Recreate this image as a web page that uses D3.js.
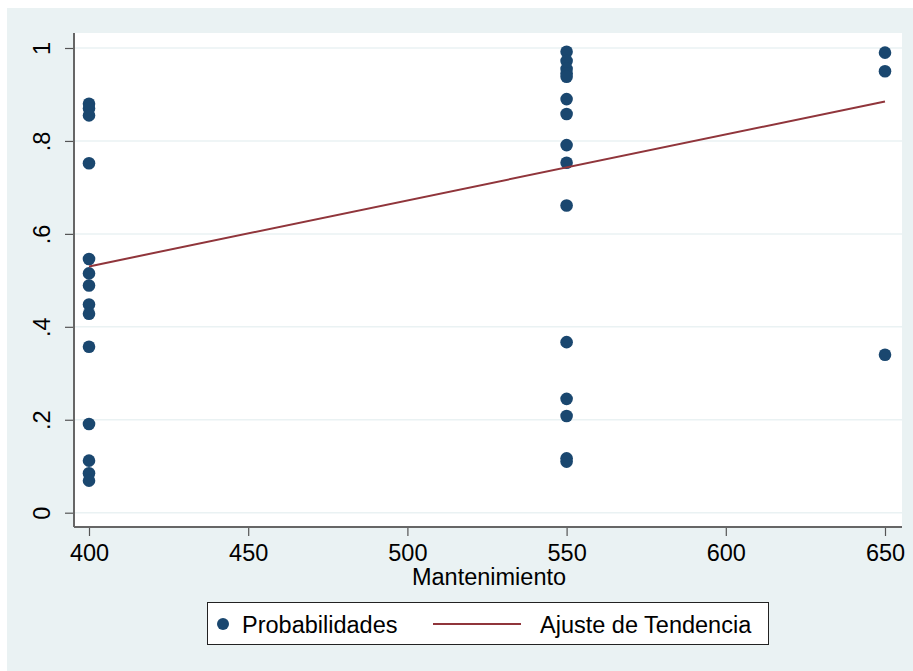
<!DOCTYPE html>
<html>
<head>
<meta charset="utf-8">
<script src="https://cdn.jsdelivr.net/npm/d3@7"></script>
<style>
  body { margin: 0; background: #fff; }
  svg text { font-family: "Liberation Sans", Arial, sans-serif; fill: #000; }
</style>
</head>
<body>
<div id="chart"></div>
<script>
// scatter of probabilities vs maintenance, with linear trend

// observations (x = Mantenimiento, y = Probabilidades)
var mantenimiento = [
  400, 400, 400, 400, 400, 400, 400, 400, 400, 400, 400, 400, 400, 400,
  550, 550, 550, 550, 550, 550, 550, 550, 550, 550, 550, 550, 550, 550, 550,
  650, 650, 650
];
var probabilidades = [
  0.88, 0.87, 0.855, 0.752, 0.546, 0.515, 0.489, 0.448, 0.428, 0.357, 0.191, 0.112, 0.085, 0.069,
  0.992, 0.972, 0.955, 0.945, 0.938, 0.890, 0.858, 0.791, 0.753, 0.661, 0.367, 0.245, 0.208, 0.117, 0.110,
  0.990, 0.950, 0.340
];

// fitted trend line endpoints
var trendX = [400, 650];
var trendY = [0.53, 0.885];

var xTicks = [400, 450, 500, 550, 600, 650];
var yTicks = [0, 0.2, 0.4, 0.6, 0.8, 1];
var yTickLabels = ["0", ".2", ".4", ".6", ".8", "1"];

var legendLabels = ["Probabilidades", "Ajuste de Tendencia"];

var width = 913, height = 671;
var navy = "#1a476f", maroon = "#90353b", bg = "#eaf2f3";
var fontSize = "23.5px";

var svg = d3.select("#chart").append("svg")
  .attr("width", width)
  .attr("height", height);

// graph background
svg.append("rect")
  .attr("x", 7).attr("y", 8)
  .attr("width", width - 7).attr("height", height - 8)
  .attr("fill", bg);

// plot region
var plot = {left: 74, right: 902, top: 33, bottom: 527};
svg.append("rect")
  .attr("x", plot.left).attr("y", plot.top)
  .attr("width", plot.right - plot.left)
  .attr("height", plot.bottom - plot.top)
  .attr("fill", "#fff");

var x = d3.scaleLinear().domain([400, 650]).range([89, 885]);
var y = d3.scaleLinear().domain([0, 1]).range([512.7, 48]);

// horizontal gridlines
svg.append("g").selectAll("line")
  .data(yTicks)
  .enter().append("line")
  .attr("x1", plot.left).attr("x2", plot.right)
  .attr("y1", function(d){ return y(d); })
  .attr("y2", function(d){ return y(d); })
  .attr("stroke", bg)
  .attr("stroke-width", 1.5);

// y axis
var yAxis = svg.append("g")
  .attr("transform", "translate(" + plot.left + ",0)")
  .call(d3.axisLeft(y).tickValues(yTicks)
    .tickFormat(function(d, i){ return yTickLabels[i]; })
    .tickSize(9).tickPadding(0));
yAxis.select(".domain").remove();
yAxis.selectAll(".tick line").attr("stroke", "#555").attr("stroke-width", 1.2);
yAxis.selectAll(".tick text")
  .attr("x", 0).attr("dy", 0)
  .attr("transform", "translate(-24,0) rotate(-90)")
  .attr("text-anchor", "middle")
  .style("font-size", fontSize);
yAxis.append("line")
  .attr("x1", 0).attr("x2", 0)
  .attr("y1", plot.top).attr("y2", plot.bottom)
  .attr("stroke", "#666").attr("stroke-width", 2);

// x axis
var xAxis = svg.append("g")
  .attr("transform", "translate(0," + plot.bottom + ")")
  .call(d3.axisBottom(x).tickValues(xTicks).tickSize(9).tickPadding(7));
xAxis.select(".domain").remove();
xAxis.selectAll(".tick line").attr("stroke", "#555").attr("stroke-width", 1.2);
xAxis.selectAll(".tick text")
  .attr("dy", "0.75em")
  .style("font-size", fontSize);
xAxis.append("line")
  .attr("x1", plot.left).attr("x2", plot.right)
  .attr("y1", 0).attr("y2", 0)
  .attr("stroke", "#666").attr("stroke-width", 2);

svg.append("text")
  .attr("x", (plot.left + plot.right) / 2 + 1)
  .attr("y", 585)
  .attr("text-anchor", "middle")
  .style("font-size", fontSize)
  .text("Mantenimiento");

// points
svg.append("g").selectAll("circle")
  .data(mantenimiento)
  .enter().append("circle")
  .attr("cx", function(d){ return x(d); })
  .attr("cy", function(d, i){ return y(probabilidades[i]); })
  .attr("r", 6.3)
  .attr("fill", navy);

// trend line
svg.append("path")
  .datum(d3.zip(trendX, trendY))
  .attr("d", d3.line()
    .x(function(d){ return x(d[0]); })
    .y(function(d){ return y(d[1]); }))
  .attr("fill", "none")
  .attr("stroke", maroon)
  .attr("stroke-width", 2);

// legend
var legend = svg.append("g");
legend.append("rect")
  .attr("x", 207.5).attr("y", 602.5)
  .attr("width", 561).attr("height", 42)
  .attr("fill", "#fff")
  .attr("stroke", "#222").attr("stroke-width", 1);
legend.append("circle")
  .attr("cx", 223).attr("cy", 624).attr("r", 6)
  .attr("fill", navy);
legend.append("text")
  .attr("x", 242).attr("y", 632.5)
  .style("font-size", fontSize)
  .text(legendLabels[0]);
legend.append("line")
  .attr("x1", 433).attr("x2", 521)
  .attr("y1", 624).attr("y2", 624)
  .attr("stroke", maroon).attr("stroke-width", 2);
legend.append("text")
  .attr("x", 540).attr("y", 632.5)
  .style("font-size", fontSize)
  .text(legendLabels[1]);
</script>
</body>
</html>
